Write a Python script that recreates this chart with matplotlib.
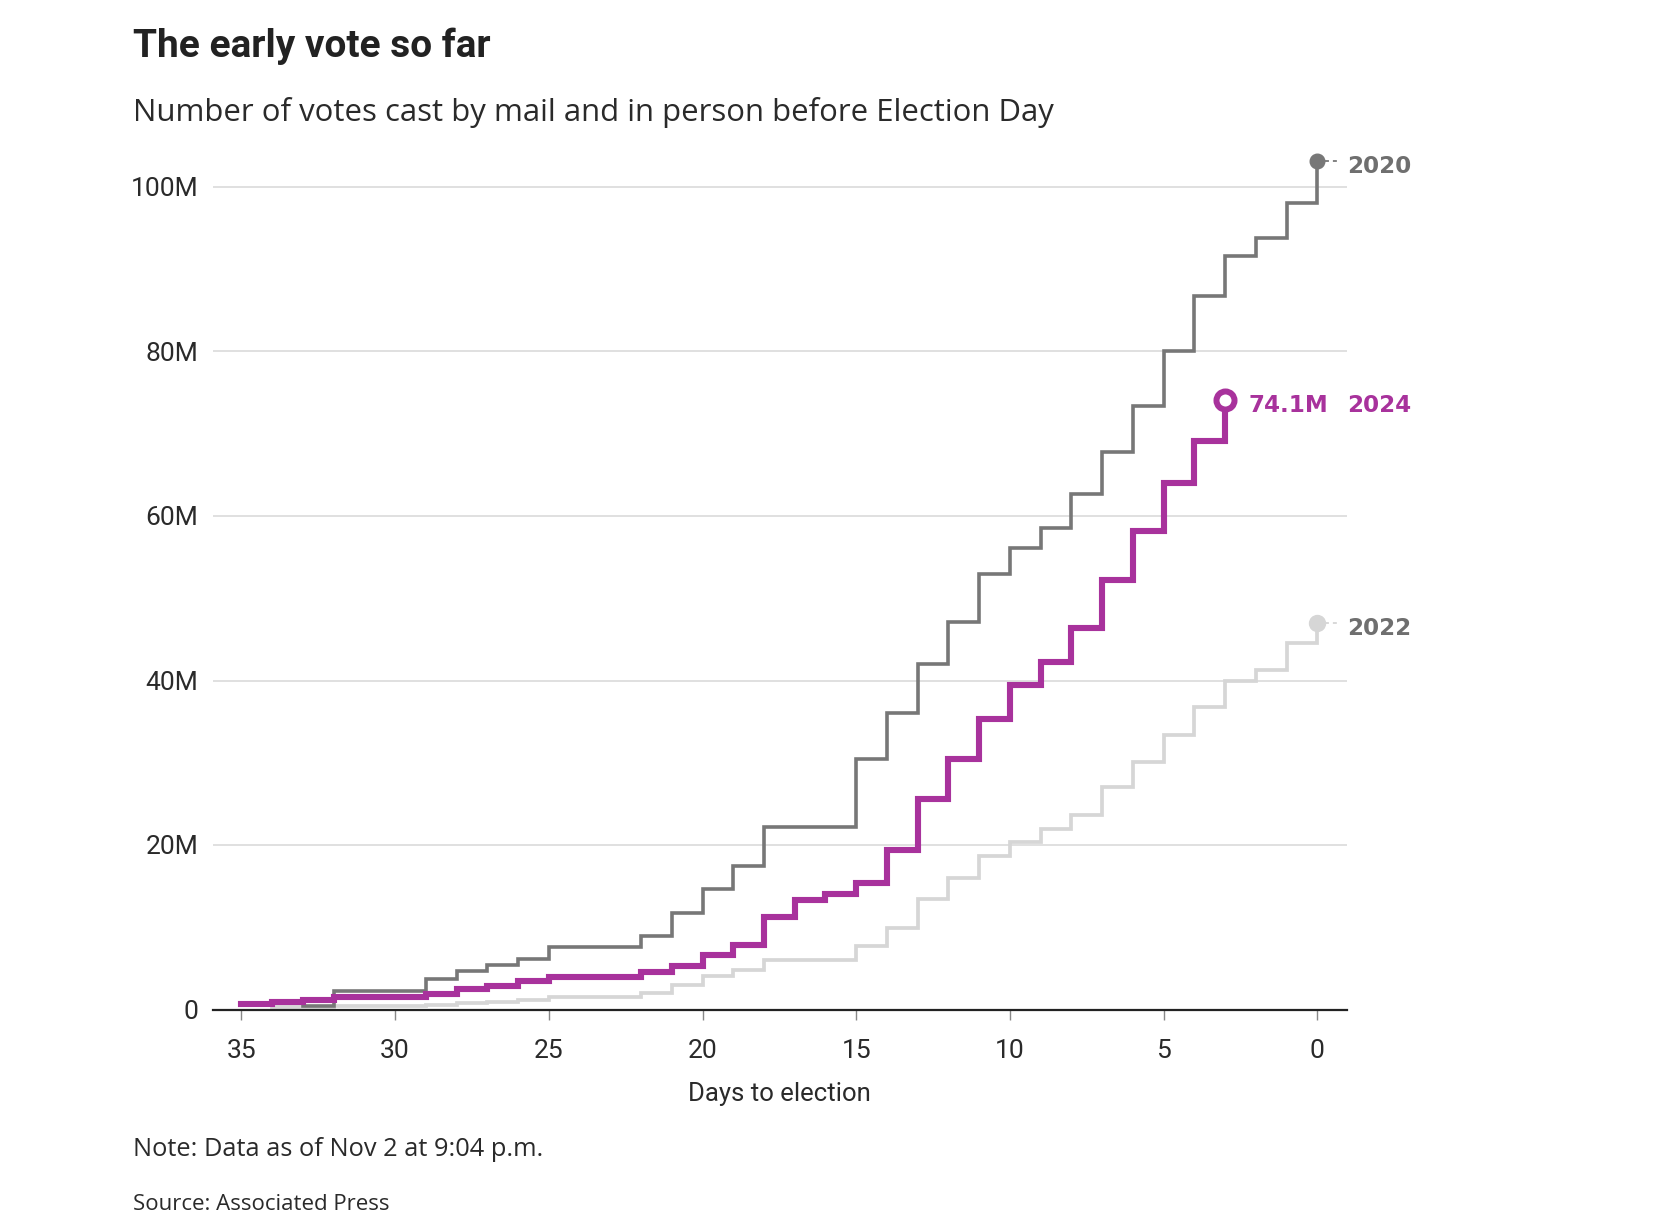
import matplotlib
matplotlib.use("Agg")
import matplotlib.pyplot as plt

# ---------------- data (millions of votes, by days to election) ----------------
days_2020 = list(range(33, -1, -1))
votes_2020 = [0.43, 2.29, 2.29, 2.29, 3.67, 4.72, 5.41, 6.10, 7.64, 7.64, 7.64,
              8.98, 11.77, 14.70, 17.45, 22.23, 22.23, 22.23, 30.42, 36.09, 42.05,
              47.15, 53.00, 56.07, 58.58, 62.64, 67.82, 73.37, 80.10, 86.78, 91.61,
              93.76, 98.09, 103.16]

days_2022 = list(range(34, -1, -1))
votes_2022 = [0.25, 0.35, 0.43, 0.43, 0.43, 0.55, 0.75, 0.95, 1.15, 1.52, 1.52,
              1.52, 2.04, 2.95, 4.07, 4.80, 6.02, 6.02, 6.02, 7.72, 9.87, 13.43,
              16.03, 18.66, 20.40, 22.00, 23.63, 27.10, 30.13, 33.37, 36.82, 39.98,
              41.28, 44.52, 47.03]

days_2024 = list(range(35, 2, -1))
votes_2024 = [0.67, 0.91, 1.19, 1.48, 1.48, 1.48, 1.88, 2.45, 2.90, 3.50, 3.99,
              3.99, 3.99, 4.60, 5.25, 6.60, 7.84, 11.20, 13.31, 14.00, 15.34, 19.39,
              25.63, 30.42, 35.35, 39.50, 42.20, 46.34, 52.18, 58.18, 63.97, 69.12,
              74.10]

x_ticks = [35, 30, 25, 20, 15, 10, 5, 0]
y_ticks = [0, 20, 40, 60, 80, 100]
y_tick_labels = ["0", "20M", "40M", "60M", "80M", "100M"]

title = "The early vote so far"
subtitle = "Number of votes cast by mail and in person before Election Day"
x_label = "Days to election"
note = "Note: Data as of Nov 2 at 9:04 p.m."
source = "Source: Associated Press"

# ---------------- style ----------------
C2020 = "#777777"
C2022 = "#d6d6d6"
C2024 = "#a8329c"
LABEL_GRAY = "#6f6f6f"
TEXT = "#2a2a2a"

plt.rcParams["font.family"] = ["Roboto", "DejaVu Sans"]
WIDE = ["Open Sans", "DejaVu Sans"]

W, H = 1670, 1232
fig = plt.figure(figsize=(W / 100, H / 100), dpi=100)
fig.patch.set_facecolor("white")

left_px, right_px = 212.5, 1346.7
y0_px, ppm = 1009.5, 8.225  # pixel of 0, pixels per million
ymax = 105
ax = fig.add_axes([left_px / W, 1 - y0_px / H, (right_px - left_px) / W, ymax * ppm / H])
ax.set_xlim(35.94, -0.955)
ax.set_ylim(0, ymax)

# grid & spines
for s in ["top", "right", "left"]:
    ax.spines[s].set_visible(False)
ax.spines["bottom"].set_color("#222222")
ax.spines["bottom"].set_linewidth(1.6)
ax.spines["bottom"].set_zorder(5)
ax.yaxis.grid(True, color="#dddddd", linewidth=1.3)
ax.set_axisbelow(True)

ax.set_yticks(y_ticks)
ax.set_yticklabels(y_tick_labels)
ax.set_xticks(x_ticks)
ax.set_xticklabels([str(t) for t in x_ticks])
ax.tick_params(axis="y", length=0, pad=10, labelsize=19, labelcolor=TEXT)
ax.tick_params(axis="x", length=7, width=1.0, color="#888888", pad=14,
               labelsize=19, labelcolor=TEXT)
ax.set_xlabel(x_label, fontsize=18.5, color=TEXT, labelpad=14)

# lines
ax.step(days_2022, votes_2022, where="post", color=C2022, lw=2.7,
        clip_on=False, zorder=3, solid_joinstyle="miter")
ax.step(days_2020, votes_2020, where="post", color=C2020, lw=2.6,
        clip_on=False, zorder=4, solid_joinstyle="miter")
ax.step(days_2024, votes_2024, where="post", color=C2024, lw=4.4,
        clip_on=False, zorder=6, solid_joinstyle="miter")

# end markers
ax.plot(days_2020[-1], votes_2020[-1], "o", ms=10.5, color=C2020, zorder=7, clip_on=False)
ax.plot(days_2022[-1], votes_2022[-1], "o", ms=11.5, color=C2022, zorder=7, clip_on=False)
ax.plot(days_2024[-1], votes_2024[-1], "o", ms=13, mfc="white", mec=C2024, mew=4.3,
        zorder=8, clip_on=False)

# dashed leaders and year labels
lead = 0.64
for d, v, c in [(days_2020[-1], votes_2020[-1], C2020), (days_2022[-1], votes_2022[-1], C2022)]:
    ax.plot([d, d - lead], [v, v], color=c, lw=1.3, ls=(0, (2.2, 2.2)), zorder=2, clip_on=False)

lab_kw = dict(textcoords="offset points", ha="left", va="baseline",
              fontsize=16.6, fontweight="bold", annotation_clip=False)
ax.annotate("2020", xy=(days_2020[-1], votes_2020[-1]), xytext=(21.4, -8.3),
            color=LABEL_GRAY, family=["DejaVu Sans"], **lab_kw)
ax.annotate("2022", xy=(days_2022[-1], votes_2022[-1]), xytext=(21.4, -9.0),
            color=LABEL_GRAY, family=["DejaVu Sans"], **lab_kw)
ax.annotate("2024", xy=(days_2020[-1], votes_2024[-1]), xytext=(21.4, -8.3),
            color=C2024, family=["DejaVu Sans"], **lab_kw)
ax.annotate(f"{votes_2024[-1]:.1f}M", xy=(days_2024[-1], votes_2024[-1]), xytext=(16.5, -8.3),
            color=C2024, family=["DejaVu Sans"], **lab_kw)

# titles & notes
fig.text(133 / W, 1 - 57 / H, title, fontsize=28, fontweight="bold", color="#222222",
         ha="left", va="baseline")
fig.text(133 / W, 1 - 121 / H, subtitle, fontsize=22.4, color=TEXT, ha="left",
         va="baseline", family=WIDE)
fig.text(133 / W, 1 - 1156 / H, note, fontsize=18.3, color=TEXT, ha="left",
         va="baseline", family=WIDE)
fig.text(133 / W, 1 - 1210 / H, source, fontsize=16, color=TEXT, ha="left",
         va="baseline", family=WIDE)

fig.savefig("out.png", dpi=100, facecolor="white")
